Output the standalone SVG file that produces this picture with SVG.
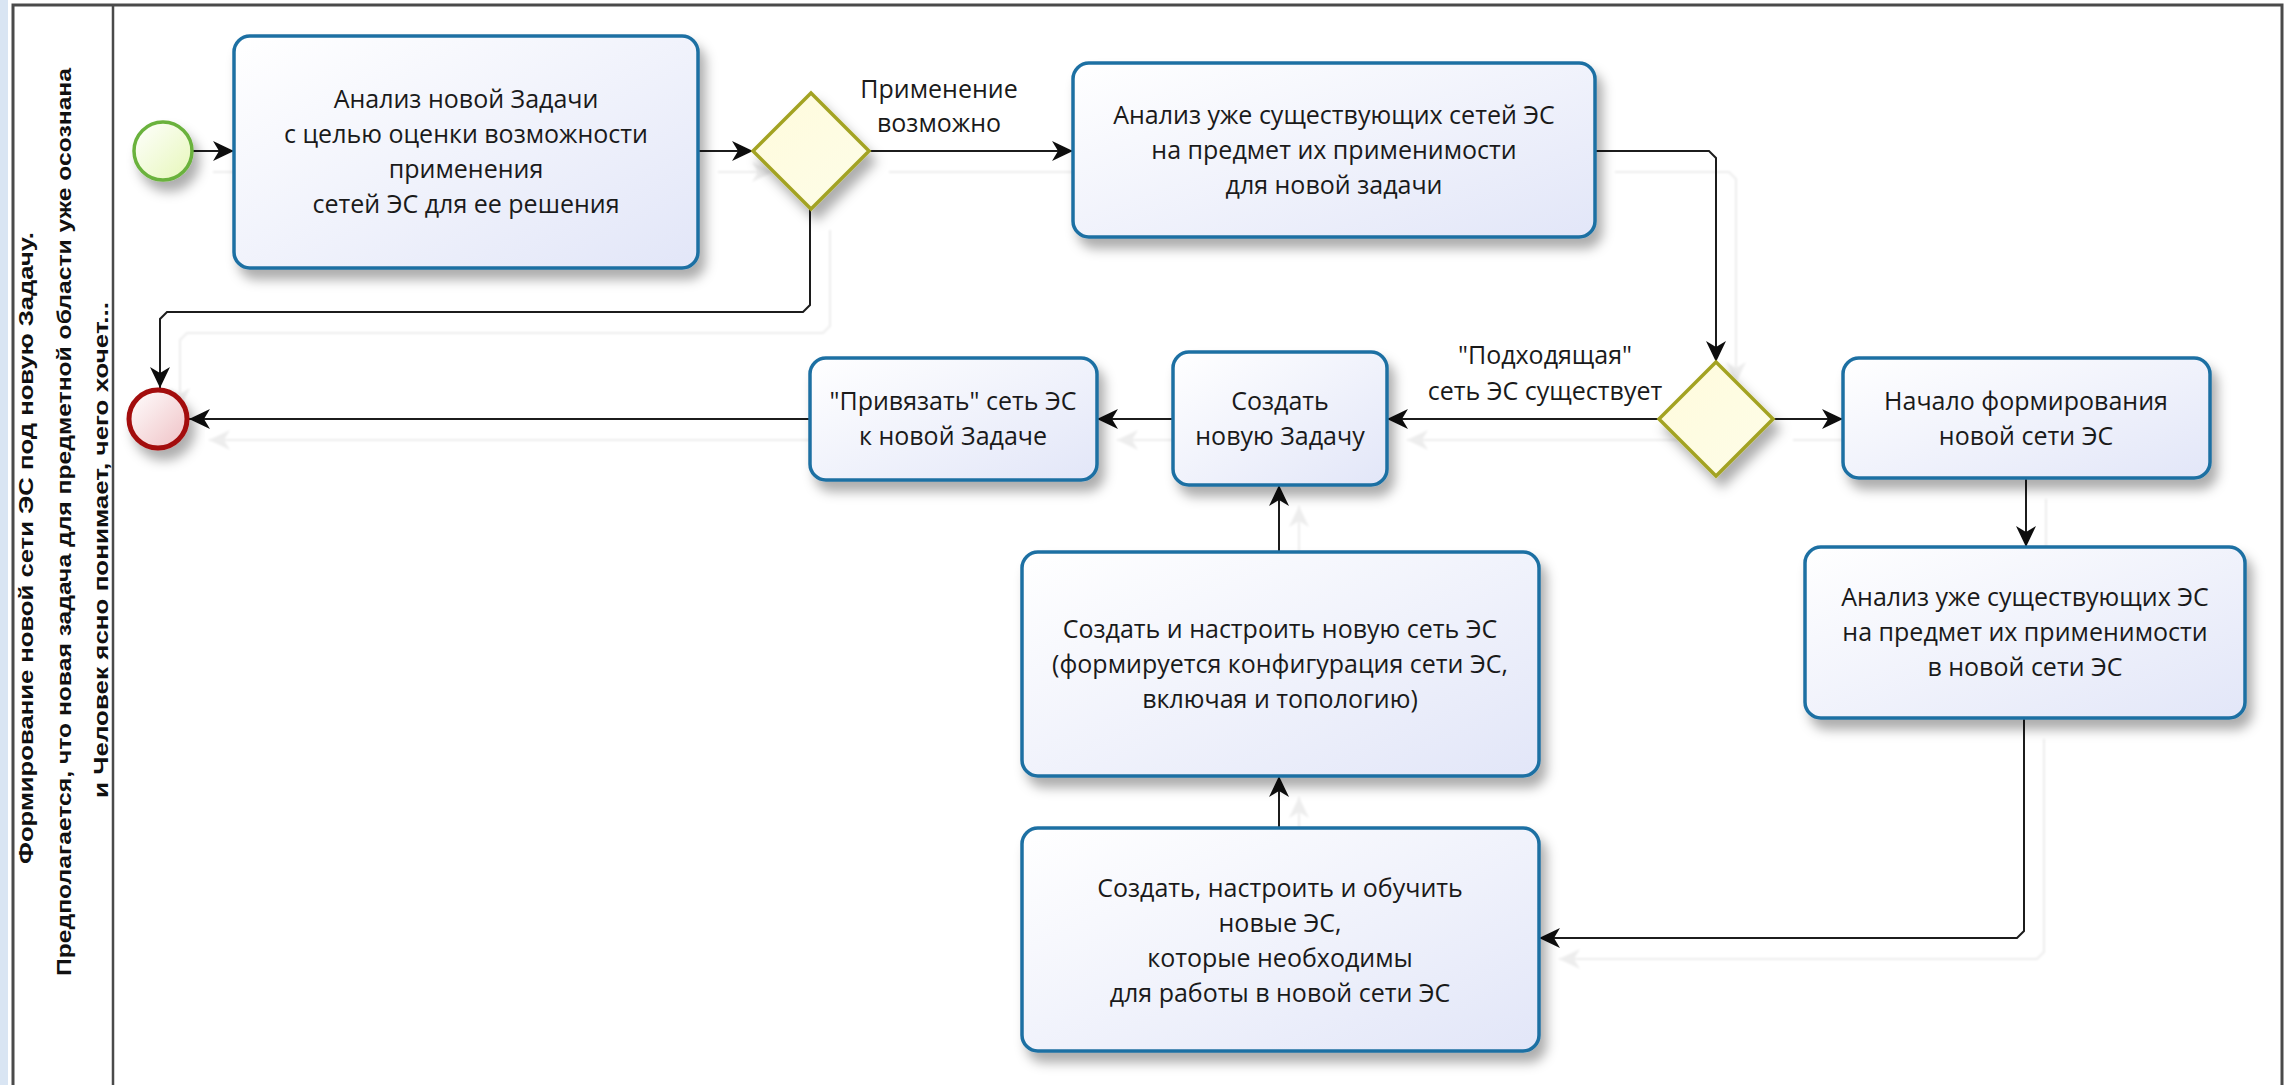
<svg xmlns="http://www.w3.org/2000/svg" width="2292" height="1085" viewBox="0 0 2292 1085">
<defs>
<style>
.task{fill:url(#gTask);stroke:#1f70a3;stroke-width:3.5;filter:url(#sh)}
.gw{fill:url(#gGw);stroke:#a3a324;stroke-width:3.5;filter:url(#sh)}
.txt{font-family:"Open Sans","Noto Sans","Liberation Sans",sans-serif;font-size:25px;fill:#1a1a1a;text-anchor:middle}
.hdr{font-family:"Liberation Sans",Arial,sans-serif;font-size:20px;font-weight:bold;fill:#111;text-anchor:middle}
.con{fill:none;stroke:#1e1e1e;stroke-width:2;marker-end:url(#arr)}
</style>
<linearGradient id="gTask" x1="0" y1="0" x2="1" y2="1"><stop offset="0" stop-color="#ffffff"/><stop offset="1" stop-color="#e2e6f8"/></linearGradient>
<linearGradient id="gGw" x1="0" y1="0" x2="1" y2="1"><stop offset="0" stop-color="#fffbdc"/><stop offset="1" stop-color="#fdfde8"/></linearGradient>
<linearGradient id="gStart" x1="0" y1="0" x2="1" y2="1"><stop offset="0" stop-color="#ffffff"/><stop offset="1" stop-color="#e6f7b8"/></linearGradient>
<linearGradient id="gEnd" x1="0" y1="0" x2="1" y2="1"><stop offset="0" stop-color="#ffffff"/><stop offset="1" stop-color="#efc0c4"/></linearGradient>
<filter id="sh" x="-20%" y="-20%" width="150%" height="160%"><feDropShadow dx="6" dy="10" stdDeviation="6" flood-color="#000" flood-opacity="0.32"/></filter>
<filter id="ghost" x="-5%" y="-5%" width="115%" height="120%"><feDropShadow dx="20" dy="21" stdDeviation="1" flood-color="#000" flood-opacity="0.07"/></filter>
<marker id="arr" markerUnits="userSpaceOnUse" markerWidth="24" markerHeight="22" refX="21" refY="10" orient="auto"><path d="M0,0 L21,10 L0,20 L6,10 Z" fill="#111"/></marker>
</defs>
<rect x="0" y="0" width="2292" height="1085" fill="#ffffff"/>
<rect x="0" y="0" width="8" height="1085" fill="#d9e5f3"/>
<g id="pool">
<rect x="13" y="5" width="2269" height="1100" fill="none" stroke="#4a4a4a" stroke-width="3"/>
<line x1="113" y1="5" x2="113" y2="1085" stroke="#4a4a4a" stroke-width="2.5"/>
<text class="hdr" transform="translate(33,548) rotate(-90)" textLength="632" lengthAdjust="spacingAndGlyphs">Формирование новой сети ЭС под новую Задачу.</text>
<text class="hdr" transform="translate(71,522) rotate(-90)" textLength="908" lengthAdjust="spacingAndGlyphs">Предполагается, что новая задача для предметной области уже осознана</text>
<text class="hdr" transform="translate(108,550) rotate(-90)" textLength="496" lengthAdjust="spacingAndGlyphs">и Человек ясно понимает, чего хочет...</text>
</g>
<g id="connectors">
<g filter="url(#ghost)">
<path class="con" d="M193,151 H234"/>
<path class="con" d="M698,151 H753"/>
<path class="con" d="M869,151 H1073"/>
<path class="con" d="M1595,151 H1709 L1716,158 V362"/>
<path class="con" d="M810,209 V305 L803,312 H167 L160,319 V388"/>
<path class="con" d="M1773,419 H1843"/>
<path class="con" d="M1659,419 H1387"/>
<path class="con" d="M1173,419 H1097"/>
<path class="con" d="M810,419 H189"/>
<path class="con" d="M2026,478 V547"/>
<path class="con" d="M2024,718 V931 L2017,938 H1539"/>
<path class="con" d="M1279,828 V776"/>
<path class="con" d="M1279,552 V485"/>
</g>
<text class="txt" x="939" y="98">Применение</text>
<text class="txt" x="939" y="132">возможно</text>
<text class="txt" x="1545" y="364">"Подходящая"</text>
<text class="txt" x="1545" y="400">сеть ЭС существует</text>
</g>
<g id="start"><circle cx="163" cy="151" r="29" fill="url(#gStart)" stroke="#6ab23c" stroke-width="3.5" filter="url(#sh)"/></g>
<g id="end"><circle cx="158" cy="419" r="29" fill="url(#gEnd)" stroke="#a30d0d" stroke-width="5" filter="url(#sh)"/></g>
<g id="task1"><rect class="task" x="234" y="36" width="464" height="232" rx="16"/>
<text class="txt" x="466" y="108">Анализ новой Задачи</text>
<text class="txt" x="466" y="143">с целью оценки возможности</text>
<text class="txt" x="466" y="178">применения</text>
<text class="txt" x="466" y="213">сетей ЭС для ее решения</text></g>
<g id="gw1"><path class="gw" d="M811,93 L869,151 L811,209 L753,151 Z"/></g>
<g id="task2"><rect class="task" x="1073" y="63" width="522" height="174" rx="16"/>
<text class="txt" x="1334" y="124">Анализ уже существующих сетей ЭС</text>
<text class="txt" x="1334" y="159">на предмет их применимости</text>
<text class="txt" x="1334" y="194">для новой задачи</text></g>
<g id="gw2"><path class="gw" d="M1716,362 L1773,419 L1716,476 L1659,419 Z"/></g>
<g id="task3"><rect class="task" x="1843" y="358" width="367" height="120" rx="16"/>
<text class="txt" x="2026" y="410">Начало формирования</text>
<text class="txt" x="2026" y="445">новой сети ЭС</text></g>
<g id="task4"><rect class="task" x="1805" y="547" width="440" height="171" rx="16"/>
<text class="txt" x="2025" y="606">Анализ уже существующих ЭС</text>
<text class="txt" x="2025" y="641">на предмет их применимости</text>
<text class="txt" x="2025" y="676">в новой сети ЭС</text></g>
<g id="task5"><rect class="task" x="1173" y="352" width="214" height="133" rx="16"/>
<text class="txt" x="1280" y="410">Создать</text>
<text class="txt" x="1280" y="445">новую Задачу</text></g>
<g id="task6"><rect class="task" x="810" y="358" width="287" height="122" rx="16"/>
<text class="txt" x="953" y="410">"Привязать" сеть ЭС</text>
<text class="txt" x="953" y="445">к новой Задаче</text></g>
<g id="task7"><rect class="task" x="1022" y="552" width="517" height="224" rx="16"/>
<text class="txt" x="1280" y="638">Создать и настроить новую сеть ЭС</text>
<text class="txt" x="1280" y="673">(формируется конфигурация сети ЭС,</text>
<text class="txt" x="1280" y="708">включая и топологию)</text></g>
<g id="task8"><rect class="task" x="1022" y="828" width="517" height="223" rx="16"/>
<text class="txt" x="1280" y="897">Создать, настроить и обучить</text>
<text class="txt" x="1280" y="932">новые ЭС,</text>
<text class="txt" x="1280" y="967">которые необходимы</text>
<text class="txt" x="1280" y="1002">для работы в новой сети ЭС</text></g>
</svg>
